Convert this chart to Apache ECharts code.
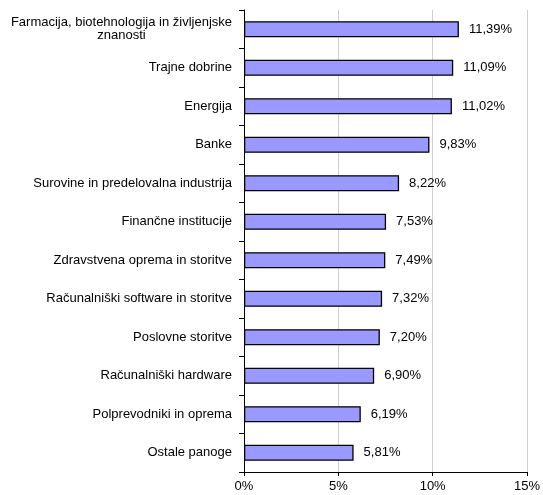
<!DOCTYPE html>
<html>
<head>
<meta charset="utf-8">
<script src="https://cdn.jsdelivr.net/npm/echarts@6/dist/echarts.min.js"></script>
<style>
  html, body { margin: 0; padding: 0; background: #fff; }
  #chart { width: 543px; height: 495px; }
</style>
</head>
<body>
<div id="chart"></div>
<script>
// panoge, od zgoraj navzdol
var categories = [
  'Farmacija, biotehnologija in življenjske\nznanosti',
  'Trajne dobrine',
  'Energija',
  'Banke',
  'Surovine in predelovalna industrija',
  'Finančne institucije',
  'Zdravstvena oprema in storitve',
  'Računalniški software in storitve',
  'Poslovne storitve',
  'Računalniški hardware',
  'Polprevodniki in oprema',
  'Ostale panoge'
]
var values = [11.39, 11.09, 11.02, 9.83, 8.22, 7.53, 7.49, 7.32, 7.20, 6.90, 6.19, 5.81]
var xTicks = [0, 5, 10, 15]

var chart = echarts.init(document.getElementById('chart'))
var font = 'Liberation Sans, Arial, sans-serif'

var option = {
  animation: false,
  grid: { left: 244, right: 15, top: 10, bottom: 23 },
  xAxis: {
    type: 'value',
    min: xTicks[0],
    max: xTicks[xTicks.length - 1],
    interval: 5,
    axisLine: { show: true, lineStyle: { color: '#000', width: 1 } },
    axisTick: { show: true, length: 4, lineStyle: { color: '#000' } },
    splitLine: { show: true, lineStyle: { color: '#cfcfcf', width: 1 } },
    axisLabel: {
      color: '#000', fontSize: 13, fontFamily: font, margin: 8,
      formatter: function (v) { return v + '%' }
    }
  },
  yAxis: {
    type: 'category',
    inverse: true,
    data: categories,
    axisLine: { show: true, lineStyle: { color: '#000', width: 1 } },
    axisTick: { show: true, length: 5, inside: false, lineStyle: { color: '#000' } },
    splitLine: { show: false },
    axisLabel: {
      color: '#000', fontSize: 13, fontFamily: font, margin: 12,
      formatter: function (v) {
        return v.split('\n').map(function (s) { return '{c|' + s + '}' }).join('\n')
      },
      rich: { c: { align: 'center', color: '#000', fontSize: 13, fontFamily: font, lineHeight: 13 } }
    }
  },
  series: [{
    type: 'bar',
    data: values,
    barCategoryGap: '58%',
    itemStyle: { color: '#9999ff', borderColor: '#000', borderWidth: 1.3 },
    label: {
      show: true,
      position: 'right',
      distance: 10,
      color: '#000',
      fontSize: 13,
      fontFamily: font,
      formatter: function (p) { return p.value.toFixed(2).replace('.', ',') + '%' }
    }
  }]
}
chart.setOption(option)
</script>
</body>
</html>
